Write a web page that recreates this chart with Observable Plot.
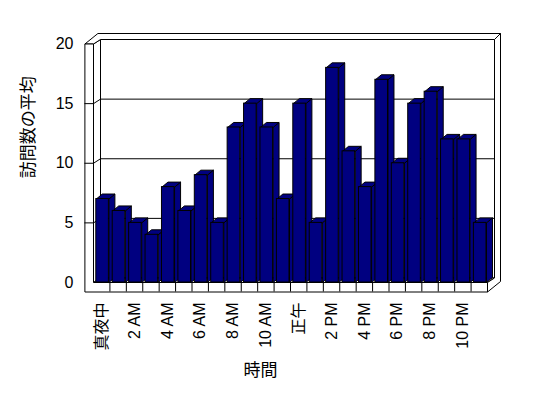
<!DOCTYPE html>
<html>
<head>
<meta charset="utf-8">
<script src="https://cdn.jsdelivr.net/npm/d3@7"></script>
<script src="https://cdn.jsdelivr.net/npm/@observablehq/plot@0.6"></script>
<style>
  body { margin: 0; background: #fff; }
  #chart svg { display: block; }
</style>
</head>
<body>
<div id="chart"></div>
<script>
// ---- data ----
const hourIndex = [0,1,2,3,4,5,6,7,8,9,10,11,12,13,14,15,16,17,18,19,20,21,22,23];
const visits    = [7,6,5,4,8,6,9,5,13,15,13,7,15,5,18,11,8,17,10,15,16,12,12,5];
const tickLabels = ["真夜中","2 AM","4 AM","6 AM","8 AM","10 AM","正午","2 PM","4 PM","6 PM","8 PM","10 PM"];
const yTicks = [0,5,10,15,20];
const yTitle = "訪問数の平均";
const xTitle = "時間";

// ---- layout ----
const W = 548, H = 398;
const mL = 93, mR = 61, mT = 43.5, mB = 116;
const X0 = 0, X1 = hourIndex.length, Y0 = 0, Y1 = 20;
const kx = (W - mL - mR) / (X1 - X0);
const ky = (H - mT - mB) / (Y1 - Y0);
// pixel offsets converted to data units
const P = (xd, yd, dxp = 0, dyp = 0) => ({x: xd + dxp / kx, y: yd - dyp / ky});

const LW = 8.6, FT = 9.5;          // left wall / floor thickness (px)
const Wdx = 7, Wdy = -4.5;         // depth of the plot box (px)
const Tdx = 6, Tdy = -6;           // back wall thickness (px)
const barL = 2.8, barR = 15.4;     // bar front face inside category (px)
const Bdx = 6, Bdy = -5;           // bar depth (px)

function polys(list) {
  const out = [];
  list.forEach((pts, id) => pts.concat([pts[0]]).forEach(p => out.push({id, x: p.x, y: p.y})));
  return out;
}

const wallPolys = polys([
  // back wall inner face
  [P(X0,Y0,Wdx,Wdy), P(X1,Y0,Wdx,Wdy), P(X1,Y1,Wdx,Wdy), P(X0,Y1,Wdx,Wdy)],
  // left wall inner face
  [P(X0,Y0), P(X0,Y1), P(X0,Y1,Wdx,Wdy), P(X0,Y0,Wdx,Wdy)],
  // floor top
  [P(X0,Y0), P(X1,Y0), P(X1,Y0,Wdx,Wdy), P(X0,Y0,Wdx,Wdy)]
]);
const edgePolys = polys([
  // top of the walls
  [P(X0,Y1,-LW,0), P(X0,Y1), P(X0,Y1,Wdx,Wdy), P(X1,Y1,Wdx,Wdy), P(X1,Y1,Wdx+Tdx,Wdy+Tdy), P(X0,Y1,-LW+Wdx+Tdx,Wdy+Tdy)],
  // right side of back wall and floor
  [P(X1,Y0,0,FT), P(X1,Y0,Wdx+Tdx,FT+Wdy+Tdy), P(X1,Y1,Wdx+Tdx,Wdy+Tdy), P(X1,Y1,Wdx,Wdy), P(X1,Y0,Wdx,Wdy), P(X1,Y0)],
  // front faces of left wall and floor
  [P(X0,Y1,-LW,0), P(X0,Y1), P(X0,Y0), P(X1,Y0), P(X1,Y0,0,FT), P(X0,Y0,-LW,FT)]
]);

const bars = hourIndex.map((h, i) => ({h, v: visits[i], x1: h + barL / kx, x2: h + barR / kx}));
const sidePolys = polys(bars.map(b => [P(b.x2,0), P(b.x2,b.v), P(b.x2,b.v,Bdx,Bdy), P(b.x2,0,Bdx,Bdy)]));
const topPolys  = polys(bars.map(b => [P(b.x1,b.v), P(b.x2,b.v), P(b.x2,b.v,Bdx,Bdy), P(b.x1,b.v,Bdx,Bdy)]));

const grid = yTicks.filter(t => t > Y0 && t < Y1);
const navy = "#000080";
const font = "'Liberation Sans', 'Noto Sans CJK JP', sans-serif";

const chart = Plot.plot({
  width: W, height: H,
  marginLeft: mL, marginRight: mR, marginTop: mT, marginBottom: mB,
  x: {type: "linear", domain: [X0, X1], axis: null},
  y: {type: "linear", domain: [Y0, Y1], axis: null},
  style: {fontFamily: font, fontSize: "16px", background: "#fff", color: "#000"},
  marks: [
    Plot.line(wallPolys, {x: "x", y: "y", z: "id", fill: "#fff", stroke: "#000", strokeWidth: 1, strokeLinejoin: "miter", strokeLinecap: "butt"}),
    // gridlines on the back wall
    Plot.ruleY(grid, {x1: X0, x2: X1, dx: Wdx, dy: Wdy, stroke: "#000", strokeWidth: 1}),
    // gridlines on the left wall
    Plot.link(grid, {x1: X0, y1: d => d, x2: X0 + Wdx / kx, y2: d => d - Wdy / ky, stroke: "#000", strokeWidth: 1}),
    Plot.line(edgePolys, {x: "x", y: "y", z: "id", fill: "#fff", stroke: "#000", strokeWidth: 1, strokeLinejoin: "miter", strokeLinecap: "butt"}),
    // ticks on the front of the left wall
    Plot.ruleY(grid, {x1: X0 - LW / kx, x2: X0, stroke: "#000", strokeWidth: 1}),
    // category dividers on the floor front
    Plot.ruleX(hourIndex.slice(1), {y1: Y0 - FT / ky, y2: Y0, stroke: "#000", strokeWidth: 1}),
    // bars
    Plot.line(sidePolys, {x: "x", y: "y", z: "id", fill: navy, stroke: "#000", strokeWidth: 1, strokeLinejoin: "miter", strokeLinecap: "butt"}),
    Plot.line(topPolys,  {x: "x", y: "y", z: "id", fill: navy, stroke: "#000", strokeWidth: 1, strokeLinejoin: "miter", strokeLinecap: "butt"}),
    Plot.rect(bars, {x1: "x1", x2: "x2", y1: 0, y2: "v", fill: navy, stroke: "#000", strokeWidth: 1}),
    // axis labels
    Plot.text(yTicks, {x: X0, y: d => d, text: d => String(d), textAnchor: "end", dx: -20, fill: "#000", fontSize: 16}),
    Plot.text(tickLabels, {x: (d, i) => 2 * i + 0.5, y: Y0, text: d => d, rotate: -90, textAnchor: "end", dy: 20, fill: "#000", fontSize: 16}),
    Plot.text([yTitle], {frameAnchor: "left", text: d => d, rotate: -90, dx: -65, dy: 15, fill: "#000", fontSize: 17}),
    Plot.text([xTitle], {frameAnchor: "bottom", text: d => d, dx: -30, dy: 93, fill: "#000", fontSize: 17})
  ]
});
document.getElementById("chart").append(chart);
</script>
</body>
</html>
